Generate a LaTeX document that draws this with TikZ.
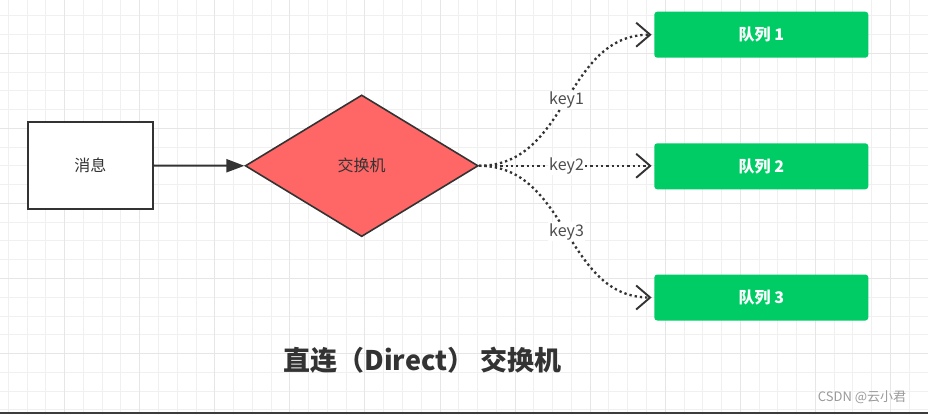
\documentclass[tikz,border=0pt]{standalone}
\usepackage{fontspec}
\setmainfont{Noto Sans CJK SC}
\usetikzlibrary{shapes.geometric,arrows.meta}
\definecolor{linec}{HTML}{333333}
\definecolor{gridminor}{HTML}{F0F0F0}
\definecolor{gridmajor}{HTML}{E6E6E6}
\definecolor{dred}{HTML}{FF6666}
\definecolor{qgreen}{HTML}{00CC66}
\definecolor{labelc}{HTML}{4D4D4D}
\definecolor{wmark}{HTML}{9A9A9A}
\definecolor{bottomc}{HTML}{3C3C3C}
\begin{document}
\begin{tikzpicture}[x=1pt,y=-1pt,
  minorgrid/.style={gridminor,line width=1pt},
  majorgrid/.style={gridmajor,line width=1pt},
  msgbox/.style={draw=linec,line width=2pt,fill=white,minimum width=125.5pt,minimum height=87.5pt,inner sep=0pt,text=linec,font=\fontsize{16}{18}\selectfont},
  exbox/.style={diamond,draw=linec,line width=1.6pt,fill=dred,aspect=1.645,minimum width=233pt,minimum height=141.7pt,inner sep=0pt,text=linec,font=\fontsize{16}{18}\selectfont},
  qbox/.style={fill=qgreen,rounded corners=3pt,minimum width=214pt,minimum height=46pt,inner sep=0pt,text=white,font=\fontsize{16}{18}\selectfont\bfseries},
  solidarrow/.style={draw=linec,line width=2pt,-{Triangle[length=18pt,width=13pt]}},
  keyarrow/.style={draw=linec,line width=2.3pt,dash pattern=on 2.3pt off 3pt,-{Straight Barb[length=14pt,width=24pt,line width=1.9pt]},shorten >=2.5pt},
  keylabel/.style={fill=white,inner sep=1pt,text=labelc,font=\fontsize{16}{18}\selectfont}
]
\useasboundingbox (0,0) rectangle (928,414);
\fill[white] (0,0) rectangle (928,414);
% grid
\foreach \i in {0,...,49} {\draw[minorgrid] ({8.3+18.77*\i},0) -- ({8.3+18.77*\i},414);}
\foreach \i in {0,...,21} {\draw[minorgrid] (0,{15.7+18.77*\i}) -- (928,{15.7+18.77*\i});}
\foreach \i in {0,...,11} {\draw[majorgrid] ({64.6+75.08*\i},0) -- ({64.6+75.08*\i},414);}
\foreach \i in {0,...,4} {\draw[majorgrid] (0,{53.3+75.08*\i}) -- (928,{53.3+75.08*\i});}
% nodes
\node[msgbox] (msg) at (90.25,165.5) {消息};
\node[exbox] (ex) at (361.7,165.8) {交换机};
\node[qbox] (q1) at (761.3,34.7) {队列 1};
\node[qbox] (q2) at (761.3,166.3) {队列 2};
\node[qbox] (q3) at (761.3,297.5) {队列 3};
% connectors
\draw[solidarrow] (msg.east) -- (ex.west);
\draw[keyarrow] (ex.east) .. controls +(90,0) and +(-90,0) .. (q1.west) node[pos=0.5,keylabel] {key1};
\draw[keyarrow] (ex.east) -- (ex.east -| q2.west) node[pos=0.5,keylabel] {key2};
\draw[keyarrow] (ex.east) .. controls +(90,0) and +(-90,0) .. (q3.west) node[pos=0.5,keylabel] {key3};
% title and watermark
\node[text=linec,font=\fontsize{27}{31}\selectfont\bfseries] (title) at (422.5,360) {直连（Direct） 交换机};
\node[text=wmark,font=\fontsize{13}{15}\selectfont] (wm) at (862,397) {CSDN @云小君};
\fill[bottomc] (0,411.7) rectangle (928,414);
\end{tikzpicture}
\end{document}
